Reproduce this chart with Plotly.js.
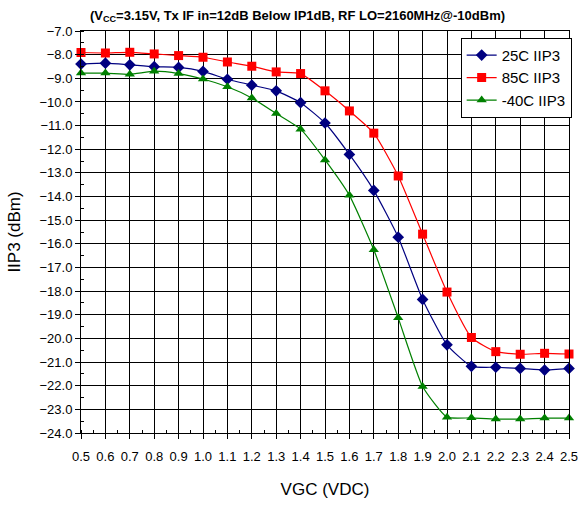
<!DOCTYPE html>
<html>
<head>
<meta charset="utf-8">
<script src="https://cdn.plot.ly/plotly-3.0.1.min.js"></script>
<style>html,body{margin:0;padding:0;background:#fff;}#chart{width:581px;height:505px;}</style>
</head>
<body>
<div id="chart"></div>
<script>
const vgc = [0.5,0.6,0.7,0.8,0.9,1.0,1.1,1.2,1.3,1.4,1.5,1.6,1.7,1.8,1.9,2.0,2.1,2.2,2.3,2.4,2.5];
const iip3_25C = [-8.40,-8.36,-8.43,-8.51,-8.54,-8.71,-9.04,-9.29,-9.53,-10.03,-10.89,-12.22,-13.74,-15.72,-18.35,-20.27,-21.18,-21.22,-21.27,-21.34,-21.27];
const iip3_85C = [-7.91,-7.93,-7.90,-7.97,-8.04,-8.11,-8.31,-8.49,-8.73,-8.80,-9.53,-10.38,-11.32,-13.13,-15.59,-18.04,-19.96,-20.56,-20.67,-20.63,-20.66];
const iip3_m40C = [-8.78,-8.78,-8.83,-8.70,-8.80,-9.03,-9.36,-9.83,-10.49,-11.15,-12.45,-13.95,-16.25,-19.13,-22.03,-23.33,-23.36,-23.41,-23.41,-23.37,-23.37];
const seriesNames = ['25C IIP3','85C IIP3','-40C IIP3'];
const xTickVals = vgc;
const xTickText = vgc.map(v => v.toFixed(1));

function tr(y, name, color, symbol, size, grp){
  return {x: vgc, y: y, name: name, type:'scatter', mode:'lines+markers',
    line:{color:color, width:1.2, shape:'spline', smoothing:0.5},
    marker:{color:color, symbol:symbol, size:size},
    cliponaxis:false, hoverinfo:'none', legendgroup:grp};
}
const data = [
  tr(iip3_25C, seriesNames[0], '#000080', 'diamond', 9, 'a'),
  tr(iip3_85C, seriesNames[1], '#FF0000', 'square', 9, 'b'),
  tr(iip3_m40C, seriesNames[2], '#008000', 'triangle-up', 9, 'c')
];
const layout = {
  width:581, height:505,
  margin:{l:81, r:9, t:31, b:72},
  paper_bgcolor:'#fff', plot_bgcolor:'#fff',
  font:{family:'Liberation Sans, Arial, sans-serif', size:13, color:'#000'},
  title:{text:'<b>(V<sub>CC</sub>=3.15V, Tx IF in=12dB Below IP1dB, RF LO=2160MHz@-10dBm)</b>',
    font:{size:13, color:'#000'}, x:0.512, xanchor:'center', y:0.97, yanchor:'middle'},
  xaxis:{range:[0.5,2.5], tickmode:'array', tickvals:xTickVals, ticktext:xTickText,
    showgrid:true, gridcolor:'#000', gridwidth:1,
    showline:true, linecolor:'#000', linewidth:1, mirror:true,
    ticks:'outside', ticklen:5, tickcolor:'#000', ticklabelstandoff:6,
    minor:{dtick:0.05, tick0:0.5, ticks:'inside', ticklen:3, tickcolor:'#000', showgrid:false},
    zeroline:false, fixedrange:true,
    title:{text:'VGC (VDC)', font:{size:17}, standoff:20}},
  yaxis:{range:[-24,-7], dtick:1, tick0:-24, tickformat:'.1f',
    showgrid:true, gridcolor:'#000', gridwidth:1,
    showline:true, linecolor:'#000', linewidth:1, mirror:true,
    ticks:'outside', ticklen:5, tickcolor:'#000',
    minor:{dtick:0.5, ticks:'inside', ticklen:3, tickcolor:'#000', showgrid:false},
    zeroline:false, fixedrange:true,
    title:{text:'IIP3 (dBm)', font:{size:17}, standoff:14}},
  showlegend:true,
  legend:{x:0.778, y:0.983, xanchor:'left', yanchor:'top', bgcolor:'#fff',
    bordercolor:'#000', borderwidth:1, font:{size:15}, tracegroupgap:8, traceorder:'normal', itemwidth:30}
};
Plotly.newPlot('chart', data, layout, {staticPlot:true, displayModeBar:false});
</script>
</body>
</html>
